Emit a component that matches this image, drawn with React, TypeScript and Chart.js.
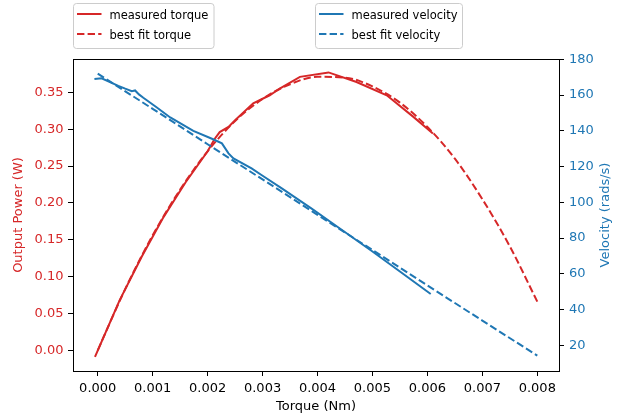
import { useEffect, useRef } from 'react';
import { Chart, registerables } from 'chart.js';

Chart.register(...registerables);
Chart.defaults.font.family = "'DejaVu Sans', sans-serif";

// ---- data ----
const torqueMeasured = [-0.00005, 0.0004, 0.0008, 0.0012, 0.0016, 0.002, 0.00213, 0.00222, 0.00238, 0.0025, 0.00283, 0.00313, 0.00332, 0.00368, 0.0042, 0.00471, 0.00526, 0.00574, 0.0061];
const powerMeasured = [-0.009, 0.068, 0.127, 0.181, 0.228, 0.27, 0.287, 0.296, 0.303, 0.312, 0.335, 0.346, 0.3555, 0.371, 0.377, 0.364, 0.346, 0.317, 0.294];

const torqueFit = [0, 0.0005, 0.001, 0.0015, 0.002, 0.0025, 0.003, 0.0035, 0.004, 0.0045, 0.005, 0.0055, 0.006, 0.0065, 0.007, 0.0075, 0.008];
const powerFit = [0.0, 0.083, 0.156, 0.218, 0.27, 0.311, 0.341, 0.361, 0.371, 0.37, 0.358, 0.336, 0.303, 0.26, 0.205, 0.141, 0.066];

const torqueVelMeasured = [-0.00006, 0.00007, 0.000375, 0.0005, 0.00062, 0.00068, 0.00075, 0.00083, 0.00107, 0.00132, 0.00174, 0.0021, 0.00226, 0.00238, 0.00247, 0.0028, 0.00298, 0.00335, 0.0039, 0.0044, 0.005, 0.0055, 0.00606];
const velocityMeasured = [169.0, 169.4, 165.2, 163.6, 162.2, 162.6, 160.4, 158.5, 153.2, 147.5, 140.0, 135.3, 133.0, 127.4, 124.6, 119.0, 115.3, 107.8, 96.3, 85.5, 72.5, 61.3, 48.7];

const torqueVelFit = [0, 0.001, 0.002, 0.003, 0.004, 0.005, 0.006, 0.007, 0.008];
const velocityFit = [172.0, 152.3, 132.5, 112.8, 93.0, 73.3, 53.5, 33.8, 14.2];

const xTicks = [0, 0.001, 0.002, 0.003, 0.004, 0.005, 0.006, 0.007, 0.008];
const powerTicks = [0, 0.05, 0.1, 0.15, 0.2, 0.25, 0.3, 0.35];
const velocityTicks = [20, 40, 60, 80, 100, 120, 140, 160, 180];

const legendTorque = ['measured torque', 'best fit torque'];
const legendVelocity = ['measured velocity', 'best fit velocity'];
const xTitle = 'Torque (Nm)';
const yTitle = 'Output Power (W)';
const y1Title = 'Velocity (rads/s)';

const RED = '#d62728';
const BLUE = '#1f77b4';
const DASH = [7.4, 3.2];

const pts = (xs: number[], ys: number[]) => xs.map((x, i) => ({ x, y: ys[i] }));

const overlay = {
  id: 'overlay',
  afterDraw(chart: any) {
    const { ctx } = chart;
    ctx.save();
    // frame (spines)
    ctx.strokeStyle = '#000';
    ctx.lineWidth = 1;
    ctx.setLineDash([]);
    ctx.strokeRect(73.5, 59.5, 486, 312);

    // right axis title (reads bottom-to-top)
    ctx.save();
    ctx.translate(605.5, 215);
    ctx.rotate(-Math.PI / 2);
    ctx.fillStyle = BLUE;
    ctx.font = "13px 'DejaVu Sans'";
    ctx.textAlign = 'center';
    ctx.textBaseline = 'middle';
    ctx.fillText(y1Title, 0, 0);
    ctx.restore();

    // legends
    const drawLegend = (bx: number, bw: number, labels: string[], color: string) => {
      ctx.save();
      ctx.beginPath();
      (ctx as any).roundRect(bx + 0.5, 3.5, bw, 45, 3);
      ctx.fillStyle = 'rgba(255,255,255,0.8)';
      ctx.fill();
      ctx.strokeStyle = '#cccccc';
      ctx.lineWidth = 1;
      ctx.stroke();
      const rows = [14, 34];
      labels.forEach((lab, i) => {
        ctx.beginPath();
        ctx.strokeStyle = color;
        ctx.lineWidth = 2;
        ctx.setLineDash(i === 1 ? DASH : []);
        ctx.moveTo(bx + 4, rows[i]);
        ctx.lineTo(bx + 28.5, rows[i]);
        ctx.stroke();
        ctx.setLineDash([]);
        ctx.fillStyle = '#000';
        ctx.font = "11.5px 'DejaVu Sans'";
        ctx.textAlign = 'left';
        ctx.textBaseline = 'alphabetic';
        ctx.fillText(lab, bx + 36.5, rows[i] + 5.3);
      });
      ctx.restore();
    };
    drawLegend(73, 140.5, legendTorque, RED);
    drawLegend(315, 147, legendVelocity, BLUE);
    ctx.restore();
  },
};

export default function App() {
  const ref = useRef<HTMLCanvasElement | null>(null);
  useEffect(() => {
    if (!ref.current) return;
    const chart = new Chart(ref.current, {
      type: 'line',
      data: {
        datasets: [
          { label: legendVelocity[1], data: pts(torqueVelFit, velocityFit), yAxisID: 'y1', borderColor: BLUE, backgroundColor: BLUE, borderDash: DASH, borderWidth: 2, pointRadius: 0, fill: false, tension: 0 },
          { label: legendVelocity[0], data: pts(torqueVelMeasured, velocityMeasured), yAxisID: 'y1', borderColor: BLUE, backgroundColor: BLUE, borderWidth: 2, pointRadius: 0, fill: false, tension: 0 },
          { label: legendTorque[1], data: pts(torqueFit, powerFit), yAxisID: 'y', borderColor: RED, backgroundColor: RED, borderDash: DASH, borderWidth: 2, pointRadius: 0, fill: false, cubicInterpolationMode: 'monotone' },
          { label: legendTorque[0], data: pts(torqueMeasured, powerMeasured), yAxisID: 'y', borderColor: RED, backgroundColor: RED, borderWidth: 2, pointRadius: 0, fill: false, tension: 0 },
        ] as any,
      },
      options: {
        animation: false,
        responsive: false,
        devicePixelRatio: 1,
        layout: { padding: { top: 59, left: 0, right: 0, bottom: 0 } },
        plugins: { legend: { display: false }, tooltip: { enabled: false } },
        scales: {
          x: {
            type: 'linear',
            min: -0.00045,
            max: 0.008395,
            afterBuildTicks: (a: any) => { a.ticks = xTicks.map((v) => ({ value: v })); },
            afterFit: (s: any) => { s.height = 47; },
            grid: { drawOnChartArea: false, drawTicks: true, tickLength: 5, tickColor: '#000', lineWidth: 1 },
            border: { display: false },
            ticks: { color: '#000', padding: 5, font: { size: 13 }, autoSkip: false, maxRotation: 0, callback: (v: any) => Number(v).toFixed(3) },
            title: { display: true, text: xTitle, color: '#000', font: { size: 13 }, padding: { top: 0, bottom: 4 } },
          },
          y: {
            type: 'linear',
            position: 'left',
            min: -0.0281,
            max: 0.3952,
            afterBuildTicks: (a: any) => { a.ticks = powerTicks.map((v) => ({ value: v })); },
            afterFit: (s: any) => { s.width = 73; },
            grid: { drawOnChartArea: false, drawTicks: true, tickLength: 5, tickColor: '#000', lineWidth: 1 },
            border: { display: false },
            ticks: { color: RED, padding: 4.5, font: { size: 13 }, autoSkip: false, callback: (v: any) => Number(v).toFixed(2) },
            title: { display: true, text: yTitle, color: RED, font: { size: 13 }, padding: { top: 10.5, bottom: 0 } },
          },
          y1: {
            type: 'linear',
            position: 'right',
            min: 5.6,
            max: 180.2,
            afterBuildTicks: (a: any) => { a.ticks = velocityTicks.map((v) => ({ value: v })); },
            afterFit: (s: any) => { s.width = 62; },
            grid: { drawOnChartArea: false, drawTicks: true, tickLength: 5, tickColor: '#000', lineWidth: 1 },
            border: { display: false },
            ticks: { color: BLUE, padding: 5, font: { size: 13 }, autoSkip: false, callback: (v: any) => String(v) },
            title: { display: false },
          },
        },
      } as any,
      plugins: [overlay],
    });
    return () => chart.destroy();
  }, []);

  return (
    <div style={{ position: 'absolute', left: 0, top: 0, width: 621, height: 418, background: '#fff' }}>
      <canvas ref={ref} width={621} height={418} style={{ display: 'block' }} />
    </div>
  );
}
